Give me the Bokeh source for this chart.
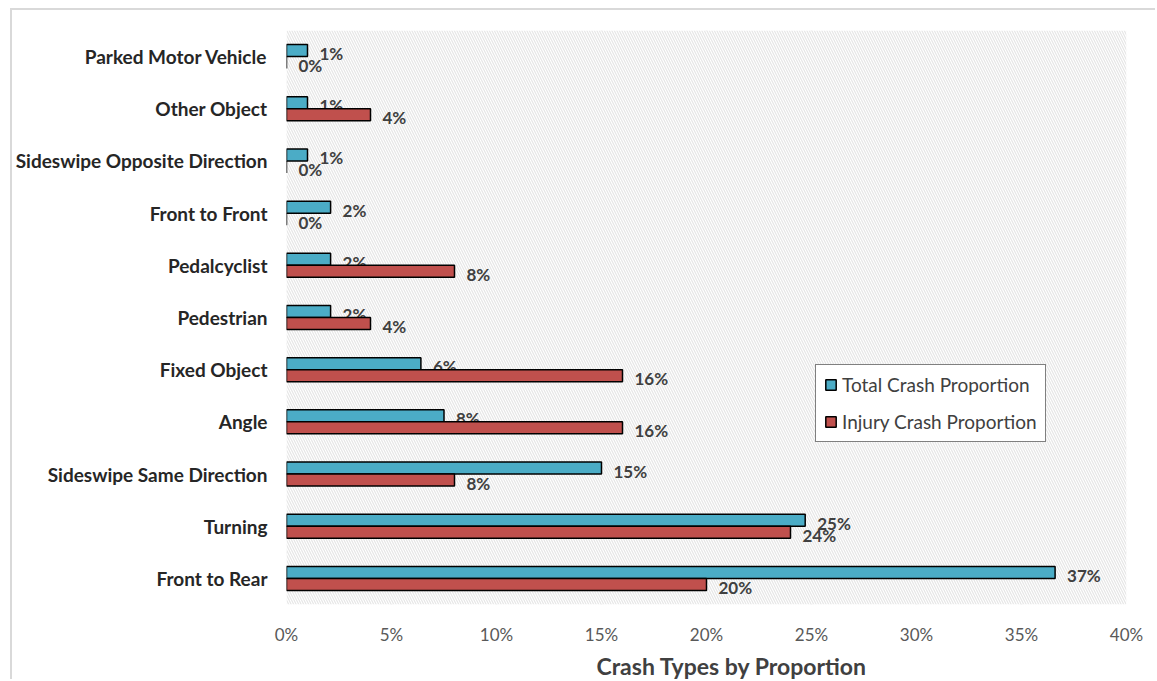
import numpy as np
from bokeh.plotting import figure
from bokeh.models import (ColumnDataSource, Range1d, FixedTicker, PrintfTickFormatter,
                          BoxAnnotation, Legend, LegendItem, Title)
from bokeh.transform import dodge
from bokeh.core.properties import value
from bokeh.embed import file_html
from bokeh.resources import INLINE

# bottom-to-top order
categories = ["Front to Rear", "Turning", "Sideswipe Same Direction", "Angle",
              "Fixed Object", "Pedestrian", "Pedalcyclist", "Front to Front",
              "Sideswipe Opposite Direction", "Other Object", "Parked Motor Vehicle"]
total_pct = [36.6, 24.7, 15.0, 7.5, 6.4, 2.1, 2.1, 2.1, 1.0, 1.0, 1.0]
injury_pct = [20.0, 24.0, 8.0, 16.0, 16.0, 4.0, 8.0, 0.0, 0.0, 4.0, 0.0]
x_ticks = [0, 5, 10, 15, 20, 25, 30, 35, 40]

FONT = "Lato"
idx = list(range(len(categories)))
src = ColumnDataSource(dict(
    y=idx,
    total=total_pct,
    injury=injury_pct,
    total_lbl=[f"{v:.0f}%" for v in total_pct],
    injury_lbl=[f"{v:.0f}%" for v in injury_pct],
))

p = figure(width=1145, height=671, output_backend="svg", toolbar_location=None,
           x_range=Range1d(0, 40), y_range=Range1d(-0.5, len(categories) - 0.5),
           min_border_left=274, min_border_right=31, min_border_top=20, min_border_bottom=70,
           background_fill_color="white", border_fill_color="white")
p.styles = {"margin-left": "10px", "margin-top": "8px",
            "border-top": "2px solid #d9d9d9", "border-left": "2px solid #d9d9d9"}
p.outline_line_color = None

# hatched background
p.add_layout(BoxAnnotation(fill_color="white", fill_alpha=1.0, line_color=None,
                           hatch_pattern="left_diagonal_line", hatch_color="#e6e6e6",
                           hatch_scale=5, hatch_weight=1.2, level="underlay"))

# grids
p.xgrid.ticker = FixedTicker(ticks=x_ticks)
p.xgrid.grid_line_color = "#d6d6d6"
p.xgrid.grid_line_width = 2
p.ygrid.ticker = FixedTicker(ticks=[i - 0.5 for i in range(len(categories) + 1)])
p.ygrid.grid_line_color = "#d6d6d6"
p.ygrid.grid_line_width = 2

bh = 0.23
r1 = p.hbar(y=dodge("y", bh / 2, range=p.y_range), right="total", left=0, height=bh,
            source=src, fill_color="#4bacc6", line_color="black", line_width=1.5)
p.text(x="total", y=dodge("y", bh / 2, range=p.y_range), text="total_lbl", source=src,
       x_offset=12, y_offset=3, text_align="left", text_baseline="middle",
       text_font=value(FONT), text_font_style="bold", text_font_size="17px",
       text_color="#404040")
r2 = p.hbar(y=dodge("y", -bh / 2, range=p.y_range), right="injury", left=0, height=bh,
            source=src, fill_color="#c0504d", line_color="black", line_width=1.5)
p.text(x="injury", y=dodge("y", -bh / 2, range=p.y_range), text="injury_lbl", source=src,
       x_offset=12, y_offset=3, text_align="left", text_baseline="middle",
       text_font=value(FONT), text_font_style="bold", text_font_size="17px",
       text_color="#404040")

# x axis
p.xaxis.ticker = FixedTicker(ticks=x_ticks)
p.xaxis.formatter = PrintfTickFormatter(format="%d%%")
p.xaxis.axis_line_color = None
p.xaxis.major_tick_line_color = None
p.xaxis.minor_tick_line_color = None
p.xaxis.major_tick_out = 0
p.xaxis.major_tick_in = 0
p.xaxis.minor_tick_out = 0
p.xaxis.major_label_text_font = FONT
p.xaxis.major_label_text_font_size = "17px"
p.xaxis.major_label_text_color = "#595959"
p.xaxis.major_label_standoff = 19

p.add_layout(Title(text="Crash Types by Proportion", align="left", offset=310,
                   text_font=FONT, text_font_size="23px", text_font_style="bold",
                   text_color="#404040", standoff=4), "below")

# y axis
p.yaxis.ticker = FixedTicker(ticks=idx)
p.yaxis.major_label_overrides = {i: c for i, c in zip(idx, categories)}
p.yaxis.axis_line_color = None
p.yaxis.major_tick_line_color = None
p.yaxis.minor_tick_line_color = None
p.yaxis.major_tick_out = 0
p.yaxis.major_tick_in = 0
p.yaxis.minor_tick_out = 0
p.yaxis.major_label_text_font = FONT
p.yaxis.major_label_text_font_size = "19px"
p.yaxis.major_label_text_font_style = "bold"
p.yaxis.major_label_text_color = "#262626"
p.yaxis.major_label_standoff = 19

legend = Legend(items=[LegendItem(label="Total Crash Proportion", renderers=[r1]),
                       LegendItem(label="Injury Crash Proportion", renderers=[r2])],
                location=(529, 162), orientation="vertical",
                label_text_font=FONT, label_text_font_size="19px", label_text_color="#404040",
                glyph_width=13, glyph_height=13, label_standoff=5, spacing=14,
                padding=8, margin=0,
                border_line_color="black", border_line_width=1.5,
                background_fill_color="white", background_fill_alpha=1.0)
p.add_layout(legend, "center")

open("out.html", "w").write(file_html(p, INLINE))
